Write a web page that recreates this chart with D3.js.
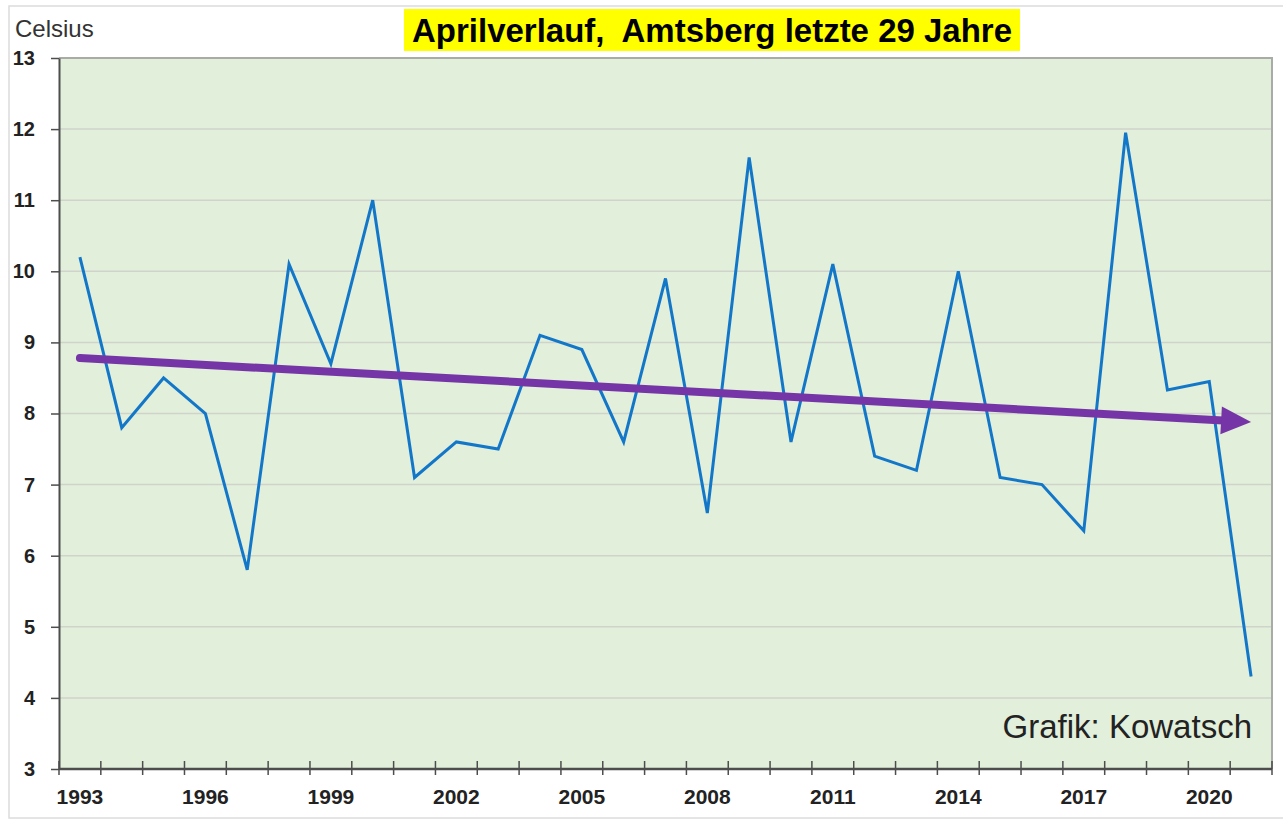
<!DOCTYPE html>
<html>
<head>
<meta charset="utf-8">
<script src="https://cdn.jsdelivr.net/npm/d3@7"></script>
<style>
  body { margin: 0; background: #fff; }
  svg { display: block; font-family: "Liberation Sans", Arial, sans-serif; }
</style>
</head>
<body>
<div id="chart"></div>
<script>
const width = 1283;
const height = 827;
const margin = { top: 58, bottom: 58, left: 59, right: 11 };

// April mean temperature, Amtsberg
const years = d3.range(1993, 2022);
const temps = [10.2, 7.8, 8.5, 8.0, 5.8, 10.1, 8.7, 11.0, 7.1, 7.6,
               7.5, 9.1, 8.9, 7.6, 9.9, 6.6, 11.6, 7.6, 10.1, 7.4,
               7.2, 10.0, 7.1, 7.0, 6.35, 11.95, 8.33, 8.45, 4.3];
const yTicks = [3, 4, 5, 6, 7, 8, 9, 10, 11, 12, 13];
const xLabels = [1993, 1996, 1999, 2002, 2005, 2008, 2011, 2014, 2017, 2020];
const trendYears = [1993, 2021];
const trendValues = [8.78, 7.88];

const svg = d3.select('#chart')
  .append('svg')
  .attr('width', width)
  .attr('height', height);

// outer frame
svg.append('rect')
  .attr('x', 9).attr('y', 6)
  .attr('width', width + 20).attr('height', 812)
  .attr('fill', 'none')
  .attr('stroke', '#dcdcdc')
  .attr('stroke-width', 1.5);

const x = d3.scaleBand()
  .domain(years)
  .range([margin.left, width - margin.right])
  .padding(0);

const y = d3.scaleLinear()
  .domain([3, 13])
  .range([height - margin.bottom, margin.top]);

const cx = d => x(d) + x.bandwidth() / 2;

// plot background
svg.append('rect')
  .attr('x', margin.left)
  .attr('y', y(13))
  .attr('width', width - margin.right - margin.left)
  .attr('height', y(3) - y(13))
  .attr('fill', '#e2efda');

// grid
svg.append('g')
  .selectAll('line')
  .data(yTicks.filter(d => d > 3 && d < 13))
  .join('line')
    .attr('x1', margin.left)
    .attr('x2', width - margin.right)
    .attr('y1', d => y(d))
    .attr('y2', d => y(d))
    .attr('stroke', '#cfd3cc')
    .attr('stroke-width', 1.5);

// top and right border
svg.append('path')
  .attr('d', `M${margin.left},${y(13)}H${width - margin.right}V${y(3)}`)
  .attr('fill', 'none')
  .attr('stroke', '#a9aca6')
  .attr('stroke-width', 2);

// y axis
svg.append('g')
  .attr('transform', `translate(${margin.left},0)`)
  .call(d3.axisLeft(y).tickValues(yTicks).tickSize(8).tickSizeOuter(0).tickFormat(d3.format('d')))
  .call(g => g.select('.domain').attr('stroke', '#4d4d4d').attr('stroke-width', 2))
  .call(g => g.selectAll('.tick line').attr('stroke', '#4d4d4d').attr('stroke-width', 1.5))
  .call(g => g.selectAll('.tick text')
    .attr('x', -24)
    .attr('fill', '#222')
    .attr('font-size', 20)
    .attr('font-weight', 'bold')
    .attr('font-family', '"Liberation Sans", Arial, sans-serif'));

// x axis line and ticks at category edges
const xAxis = svg.append('g');
xAxis.append('line')
  .attr('x1', margin.left).attr('x2', width - margin.right)
  .attr('y1', y(3)).attr('y2', y(3))
  .attr('stroke', '#4d4d4d').attr('stroke-width', 2.5);
xAxis.selectAll('line.tk')
  .data(years.concat([null]))
  .join('line')
    .attr('class', 'tk')
    .attr('x1', d => d === null ? width - margin.right : x(d))
    .attr('x2', d => d === null ? width - margin.right : x(d))
    .attr('y1', y(3) - 8)
    .attr('y2', y(3) + 6)
    .attr('stroke', '#4d4d4d')
    .attr('stroke-width', 1.5);

svg.append('g')
  .attr('transform', `translate(0,${y(3)})`)
  .call(d3.axisBottom(x).tickValues(xLabels).tickSize(0).tickPadding(20))
  .call(g => g.select('.domain').remove())
  .call(g => g.selectAll('.tick text')
    .attr('fill', '#222')
    .attr('font-size', 21)
    .attr('font-weight', 'bold')
    .attr('font-family', '"Liberation Sans", Arial, sans-serif'));

// temperature line
const line = d3.line()
  .x((d, i) => cx(years[i]))
  .y(d => y(d));

svg.append('path')
  .datum(temps)
  .attr('d', line)
  .attr('fill', 'none')
  .attr('stroke', '#1377c9')
  .attr('stroke-width', 3)
  .attr('stroke-linejoin', 'miter');

// trend arrow
const x0 = cx(trendYears[0]), y0 = y(trendValues[0]);
const x1 = cx(trendYears[1]), y1 = y(trendValues[1]);
const ang = Math.atan2(y1 - y0, x1 - x0);
const headLen = 30, headHalf = 14;
const bx = x1 - headLen * Math.cos(ang), by = y1 - headLen * Math.sin(ang);

svg.append('line')
  .attr('x1', x0).attr('y1', y0)
  .attr('x2', bx + 2 * Math.cos(ang)).attr('y2', by + 2 * Math.sin(ang))
  .attr('stroke', '#7535a6')
  .attr('stroke-width', 8)
  .attr('stroke-linecap', 'round');

svg.append('polygon')
  .attr('points', [
    [x1, y1],
    [bx + headHalf * Math.sin(ang), by - headHalf * Math.cos(ang)],
    [bx - headHalf * Math.sin(ang), by + headHalf * Math.cos(ang)]
  ].map(p => p.join(',')).join(' '))
  .attr('fill', '#7535a6');

// title
const title = svg.append('g');
const titleText = title.append('text')
  .attr('x', 712)
  .attr('y', 42)
  .attr('text-anchor', 'middle')
  .attr('font-size', 34)
  .attr('font-weight', 'bold')
  .attr('fill', '#000')
  .attr('textLength', 600)
  .attr('lengthAdjust', 'spacingAndGlyphs')
  .attr('xml:space', 'preserve')
  .style('white-space', 'pre')
  .text('Aprilverlauf,  Amtsberg letzte 29 Jahre');
const bb = titleText.node().getBBox();
title.insert('rect', 'text')
  .attr('x', bb.x - 8)
  .attr('y', 9)
  .attr('width', bb.width + 16)
  .attr('height', 42)
  .attr('fill', '#ffff00');

// unit label
svg.append('text')
  .attr('x', 15)
  .attr('y', 37)
  .attr('font-size', 24)
  .attr('fill', '#333')
  .text('Celsius');

// credit
svg.append('text')
  .attr('x', 1252)
  .attr('y', 738)
  .attr('text-anchor', 'end')
  .attr('font-size', 33)
  .attr('fill', '#222')
  .text('Grafik: Kowatsch');
</script>
</body>
</html>
